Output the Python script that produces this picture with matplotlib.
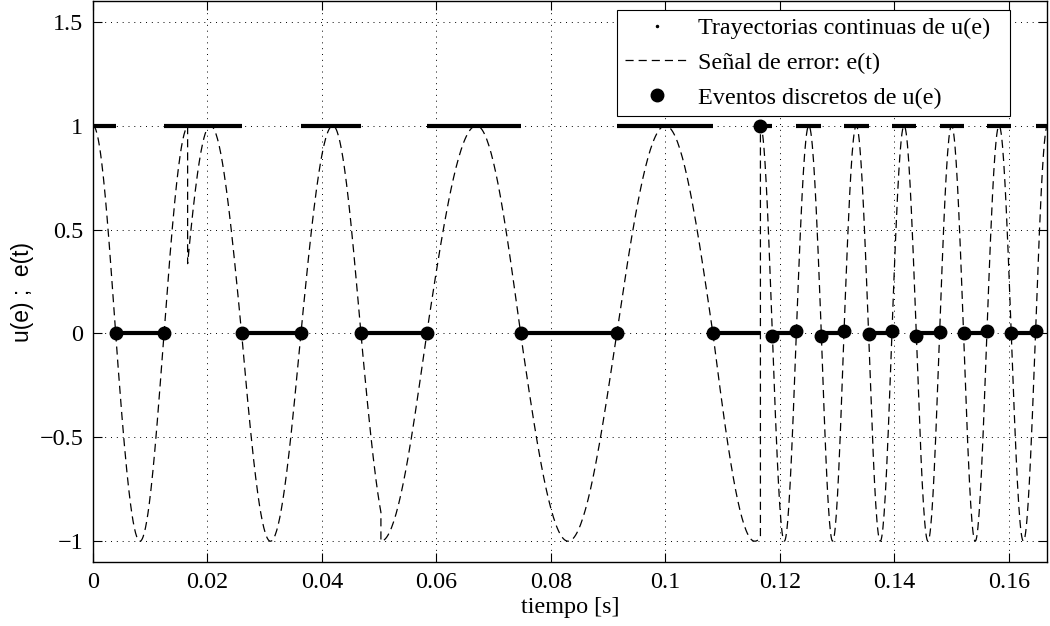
import numpy as np
import matplotlib
matplotlib.use('Agg')
import matplotlib.pyplot as plt
from matplotlib.lines import Line2D

# relay switching events: time [s] and value of e at the event
t_event = [0.00395, 0.0124, 0.02597, 0.03632, 0.0468, 0.0583, 0.0747, 0.0915,
           0.1083, 0.1166, 0.11868, 0.12287, 0.12724, 0.13119, 0.1355, 0.13957,
           0.14383, 0.1479, 0.15209, 0.15616, 0.16042, 0.16466]
e_event = [0, 0, 0, 0, 0, 0, 0, 0,
           0, 1, -0.01, 0.01, -0.01, 0.012, -0.005, 0.01,
           -0.01, 0.005, 0.0, 0.01, 0.0, 0.01]

# continuous u(e) trajectories held between events
u_start = [0.0, 0.00395, 0.0124, 0.02597, 0.03632, 0.0468, 0.0583, 0.0747, 0.0915,
           0.1083, 0.1166, 0.11868, 0.12287, 0.12724, 0.13119, 0.1355, 0.13957,
           0.14383, 0.1479, 0.15209, 0.15616, 0.16042, 0.16466]
u_end = [0.00395, 0.0124, 0.02597, 0.03632, 0.0468, 0.0583, 0.0747, 0.0915, 0.1083,
         0.1166, 0.11868, 0.12287, 0.12724, 0.13119, 0.1355, 0.13957, 0.14383,
         0.1479, 0.15209, 0.15616, 0.16042, 0.16466, 0.16667]
u_level = [1, 0, 1, 0, 1, 0, 1, 0, 1,
           0, 1, 0, 1, 0, 1, 0, 1,
           0, 1, 0, 1, 0, 1]

# error signal e(t) = cos(pi*phase); phase knots (multiples of pi) per piece,
# pieces are joined by the jumps of e
e_t_a = [0.0, 0.00395, 0.0082, 0.0124, 0.01653]
e_ph_a = [0.0, 0.5, 1.0, 1.5, 1.98]
e_t_b = [0.01653, 0.0205, 0.02597, 0.031, 0.03632, 0.0419, 0.0468, 0.0503]
e_ph_b = [-0.391, 0.0, 0.5, 1.0, 1.5, 2.0, 2.5, 2.83]
e_t_c = [0.0503, 0.0583, 0.067, 0.0747, 0.083, 0.0915, 0.1, 0.1083, 0.1156, 0.1166]
e_ph_c = [3.0, 3.5, 4.0, 4.5, 5.0, 5.5, 6.0, 6.5, 7.0, 7.06]
e_t_d = [0.1166, 0.11868, 0.12287, 0.12724, 0.13119, 0.1355, 0.13957, 0.14383,
         0.1479, 0.15209, 0.15616, 0.16042, 0.16466, 0.16667]
e_ph_d = [0.0, 0.5, 1.5, 2.5, 3.5, 4.5, 5.5, 6.5,
          7.5, 8.5, 9.5, 10.5, 11.5, 11.98]


def piece(tk, phk, n=40):
    tt, pp = [], []
    for i in range(len(tk) - 1):
        tt.append(np.linspace(tk[i], tk[i + 1], n))
        pp.append(np.linspace(phk[i], phk[i + 1], n))
    return np.concatenate(tt), np.cos(np.pi * np.concatenate(pp))


parts = [piece(e_t_a, e_ph_a), piece(e_t_b, e_ph_b),
         piece(e_t_c, e_ph_c), piece(e_t_d, e_ph_d)]
t_err = np.concatenate([p[0] for p in parts])
e_err = np.concatenate([p[1] for p in parts])

plt.rcParams['font.family'] = ['Liberation Serif', 'DejaVu Serif']
plt.rcParams['font.size'] = 17.4

fig = plt.figure(figsize=(10.5, 6.26), dpi=100)
ax = fig.add_axes([93 / 1050, 64 / 626, 954 / 1050, 561 / 626])

ax.hlines(u_level, u_start, u_end, colors='k', linewidth=3.0, zorder=3)
ax.plot(t_err, e_err, color='k', linewidth=0.9, dashes=(6.5, 4), zorder=2)
ax.plot(t_event, e_event, 'o', color='k', markersize=9, zorder=4)

ax.set_xlim(0, 1 / 6)
ax.set_ylim(-1.1, 1.6)
ax.set_xticks([0, 0.02, 0.04, 0.06, 0.08, 0.1, 0.12, 0.14, 0.16])
ax.set_xticklabels(['0', '0.02', '0.04', '0.06', '0.08', '0.1', '0.12', '0.14', '0.16'])
ax.set_yticks([-1, -0.5, 0, 0.5, 1, 1.5])
ax.set_yticklabels(['\u22121', '\u22120.5', '0', '0.5', '1', '1.5'])
ax.tick_params(direction='in', length=6.5, width=0.8, top=True, right=True, pad=7)
ax.grid(True, color='k', linewidth=0.7, linestyle=(0, (1, 5)))
for s in ax.spines.values():
    s.set_linewidth(1.0)

ax.set_xlabel('tiempo [s]', labelpad=3)
ax.set_ylabel('u(e) ;  e(t)', family=['Liberation Sans', 'DejaVu Sans'], fontsize=16.5)
ax.yaxis.set_label_coords(-0.062, 0.481)

handles = [Line2D([], [], linestyle='none', marker='.', markersize=3, color='k'),
           Line2D([], [], color='k', linewidth=0.9, dashes=(6.5, 4)),
           Line2D([], [], linestyle='none', marker='o', markersize=9, color='k')]
labels = ['Trayectorias continuas de u(e)  ', 'Se\u00f1al de error: e(t)', 'Eventos discretos de u(e)']
leg = ax.legend(handles, labels, loc='upper right', bbox_to_anchor=(0.961, 0.984),
                fancybox=False, framealpha=1, edgecolor='k', handlelength=2.7,
                handletextpad=0.35, borderpad=0.3, labelspacing=0.53, borderaxespad=0)
leg.get_frame().set_linewidth(0.8)

fig.savefig('out.png', dpi=100)
